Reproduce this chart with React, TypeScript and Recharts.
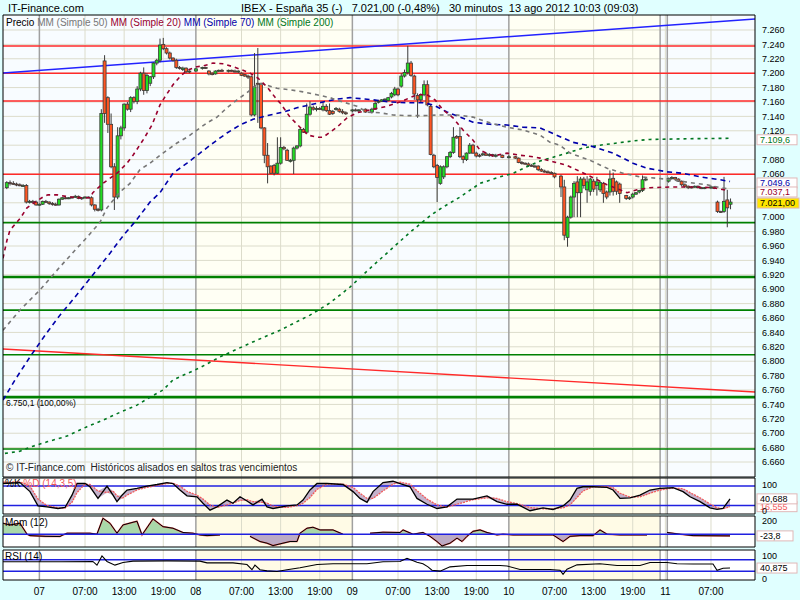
import React from "react";
import {
  ComposedChart,
  Bar,
  Line,
  Area,
  XAxis,
  YAxis,
  ReferenceLine,
  ReferenceArea,
} from "recharts";

// time axis: hours from 07 ago 00:00, one candle every 30 minutes
const T_MIN = -5.58;
const T_MAX = 109.75;
const PRICE_MIN = 6639.2;
const PRICE_MAX = 7280.8;

// [t, open, high, low, close]
const barsPre07 = [
  [-5.0, 7041, 7050, 7039, 7048], [-4.5, 7048, 7051, 7044, 7047], [-4.0, 7047, 7050, 7045, 7046],
  [-3.5, 7046, 7048, 7043, 7045], [-3.0, 7045, 7047, 7043, 7044], [-2.5, 7044, 7046, 7042, 7044],
  [-2.0, 7044, 7046, 7019, 7021], [-1.5, 7021, 7024, 7019, 7022], [-1.0, 7022, 7024, 7020, 7021],
  [-0.5, 7021, 7023, 7016, 7017], [0.0, 7017, 7019, 7016, 7018], [0.5, 7018, 7023, 7017, 7022],
  [1.0, 7022, 7024, 7020, 7021], [1.5, 7021, 7022, 7017, 7019], [2.0, 7019, 7021, 7016, 7018],
  [2.5, 7018, 7020, 7016, 7017], [3.0, 7017, 7026, 7016, 7025], [3.5, 7025, 7028, 7024, 7027],
  [4.0, 7027, 7029, 7025, 7026], [4.5, 7026, 7028, 7025, 7027], [5.0, 7027, 7029, 7026, 7028],
  [5.5, 7028, 7031, 7027, 7029], [6.0, 7029, 7030, 7025, 7026], [6.5, 7026, 7028, 7024, 7027],
  [7.0, 7027, 7029, 7026, 7028], [7.5, 7028, 7029, 7027, 7028], [8.0, 7027, 7029, 7015, 7017],
  [8.5, 7017, 7018, 7008, 7011], [9.0, 7011, 7013, 7008, 7010],
];

const barsDay07 = [
  [9.5, 7010, 7150, 7008, 7144], [10.0, 7217, 7225, 7131, 7144], [10.5, 7166, 7168, 7117, 7129],
  [11.0, 7129, 7144, 7068, 7070], [11.5, 7070, 7075, 7010, 7028], [12.0, 7028, 7125, 7025, 7113],
  [12.5, 7113, 7127, 7108, 7124], [13.0, 7124, 7158, 7120, 7157], [13.5, 7157, 7160, 7148, 7150],
  [14.0, 7150, 7168, 7146, 7166], [14.5, 7166, 7168, 7158, 7161], [15.0, 7161, 7182, 7157, 7178],
  [15.5, 7178, 7202, 7175, 7200], [16.0, 7200, 7208, 7170, 7176], [16.5, 7176, 7200, 7172, 7197],
  [17.0, 7186, 7196, 7182, 7195], [17.5, 7195, 7215, 7192, 7214], [18.0, 7214, 7220, 7211, 7218],
  [18.5, 7218, 7248, 7215, 7239], [19.0, 7240, 7249, 7232, 7234], [19.5, 7234, 7236, 7226, 7228],
  [20.0, 7228, 7230, 7219, 7221], [20.5, 7221, 7222, 7216, 7218], [21.0, 7218, 7220, 7206, 7208],
  [21.5, 7208, 7210, 7205, 7207], [22.0, 7205, 7209, 7203, 7207], [22.5, 7207, 7208, 7200, 7202],
  [23.0, 7202, 7204, 7200, 7203],
];

const barsDay08 = [
  [24.0, 7203, 7207, 7202, 7206], [25.0, 7207, 7209, 7205, 7208], [25.5, 7208, 7209, 7206, 7207],
  [26.0, 7203, 7204, 7197, 7199], [26.5, 7200, 7201, 7197, 7198], [27.0, 7199, 7204, 7198, 7203],
  [27.5, 7203, 7205, 7202, 7204], [28.0, 7204, 7206, 7202, 7203], [29.0, 7203, 7205, 7201, 7204],
  [29.5, 7204, 7205, 7202, 7203], [30.0, 7203, 7205, 7201, 7202], [30.5, 7202, 7204, 7200, 7203],
  [31.0, 7200, 7201, 7196, 7197], [31.5, 7198, 7199, 7195, 7196], [32.0, 7196, 7198, 7192, 7195],
  [32.5, 7195, 7197, 7140, 7142], [33.0, 7142, 7228, 7140, 7181], [33.5, 7186, 7235, 7131, 7185],
  [34.0, 7185, 7187, 7122, 7124], [34.5, 7124, 7125, 7075, 7086], [35.0, 7086, 7103, 7047, 7070],
  [35.5, 7071, 7072, 7060, 7061], [36.0, 7072, 7074, 7058, 7061], [36.5, 7061, 7111, 7060, 7075],
  [37.0, 7075, 7111, 7073, 7097], [37.5, 7097, 7099, 7093, 7095], [38.0, 7093, 7095, 7078, 7079],
  [38.5, 7079, 7081, 7076, 7079], [39.0, 7079, 7098, 7060, 7096], [39.5, 7096, 7100, 7094, 7099],
  [40.0, 7099, 7124, 7097, 7122], [40.5, 7122, 7124, 7117, 7118], [41.0, 7118, 7158, 7116, 7143],
  [41.5, 7143, 7161, 7141, 7153], [42.0, 7152, 7155, 7148, 7150], [42.5, 7150, 7154, 7147, 7151],
  [43.0, 7151, 7153, 7149, 7150], [43.5, 7149, 7160, 7147, 7154], [44.0, 7154, 7157, 7146, 7148],
  [44.5, 7148, 7158, 7142, 7143], [45.0, 7147, 7149, 7142, 7144], [45.5, 7150, 7153, 7148, 7151],
  [46.0, 7150, 7152, 7145, 7147], [46.5, 7147, 7150, 7143, 7145], [47.0, 7145, 7147, 7142, 7144],
];

const barsDay09 = [
  [48.0, 7148, 7150, 7146, 7149], [48.5, 7149, 7151, 7147, 7148], [49.0, 7148, 7150, 7146, 7149],
  [50.0, 7150, 7151, 7145, 7146], [51.0, 7146, 7152, 7144, 7150], [51.5, 7150, 7162, 7149, 7158],
  [52.0, 7160, 7163, 7158, 7161], [52.5, 7161, 7164, 7160, 7163], [53.0, 7163, 7165, 7161, 7164],
  [53.5, 7162, 7167, 7161, 7166], [54.0, 7167, 7174, 7165, 7172], [54.5, 7170, 7181, 7168, 7178],
  [55.0, 7178, 7180, 7168, 7170], [55.5, 7182, 7200, 7180, 7196], [56.0, 7196, 7205, 7194, 7201],
  [56.5, 7201, 7238, 7198, 7214], [57.0, 7214, 7217, 7195, 7197], [57.5, 7196, 7198, 7163, 7171],
  [58.0, 7169, 7172, 7138, 7163], [58.5, 7163, 7172, 7160, 7170], [59.0, 7170, 7190, 7168, 7184],
  [59.5, 7184, 7190, 7154, 7156], [60.0, 7154, 7156, 7086, 7087], [60.5, 7086, 7088, 7068, 7070],
  [61.0, 7072, 7074, 7021, 7055], [61.5, 7047, 7072, 7045, 7070], [62.0, 7056, 7072, 7053, 7070],
  [62.5, 7070, 7085, 7068, 7084], [63.0, 7084, 7092, 7082, 7090], [63.5, 7090, 7125, 7088, 7111],
  [64.0, 7112, 7114, 7109, 7110], [64.5, 7112, 7125, 7082, 7084], [65.0, 7084, 7086, 7075, 7080],
  [65.5, 7080, 7090, 7078, 7089], [66.0, 7089, 7103, 7088, 7100], [66.5, 7100, 7102, 7088, 7089],
  [67.0, 7089, 7091, 7083, 7085], [67.5, 7086, 7088, 7083, 7085], [68.0, 7087, 7090, 7085, 7088],
  [68.5, 7088, 7090, 7085, 7086], [69.0, 7086, 7089, 7084, 7087], [69.5, 7087, 7088, 7084, 7085],
  [70.0, 7085, 7088, 7083, 7086], [71.0, 7086, 7087, 7082, 7083],
];

const barsDay10 = [
  [72.0, 7084, 7086, 7082, 7084], [73.0, 7084, 7085, 7081, 7082], [73.5, 7082, 7083, 7075, 7076],
  [74.0, 7076, 7078, 7073, 7075], [74.5, 7075, 7076, 7073, 7074], [75.0, 7074, 7076, 7070, 7072],
  [75.5, 7072, 7074, 7070, 7071], [76.0, 7071, 7073, 7069, 7070], [76.5, 7071, 7072, 7064, 7066],
  [77.0, 7066, 7068, 7063, 7064], [77.5, 7064, 7066, 7062, 7063], [78.0, 7063, 7065, 7061, 7062],
  [78.5, 7062, 7064, 7060, 7061], [79.0, 7061, 7062, 7054, 7056], [80.0, 7057, 7059, 7028, 7042],
  [80.5, 7042, 7052, 6968, 6975], [81.0, 6972, 7002, 6959, 7000], [81.5, 7000, 7030, 6998, 7028],
  [82.0, 7028, 7050, 7000, 7047], [82.5, 7049, 7057, 7000, 7034], [83.0, 7034, 7056, 7000, 7053],
  [83.5, 7053, 7056, 7040, 7044], [84.0, 7038, 7057, 7020, 7049], [84.5, 7036, 7055, 7030, 7053],
  [85.0, 7050, 7053, 7035, 7039], [85.5, 7044, 7056, 7030, 7049], [86.0, 7038, 7050, 7035, 7048],
  [86.5, 7047, 7049, 7020, 7033], [87.0, 7035, 7037, 7025, 7028], [87.5, 7035, 7065, 7030, 7053],
  [88.0, 7054, 7062, 7030, 7036], [88.5, 7049, 7051, 7031, 7036], [89.0, 7046, 7048, 7020, 7033],
  [90.0, 7030, 7031, 7024, 7026], [90.5, 7026, 7029, 7024, 7027], [91.0, 7028, 7034, 7026, 7032],
  [91.5, 7032, 7035, 7031, 7034], [92.0, 7035, 7038, 7033, 7037], [92.5, 7037, 7058, 7035, 7052],
  [93.0, 7052, 7055, 7050, 7053],
];

const barsDay13 = [
  [96.5, 7050, 7055, 7048, 7054], [97.0, 7054, 7057, 7052, 7055], [97.5, 7055, 7056, 7051, 7053],
  [98.0, 7053, 7054, 7049, 7050], [98.5, 7050, 7051, 7043, 7045], [99.0, 7045, 7047, 7041, 7043],
  [99.5, 7043, 7044, 7039, 7041], [100.0, 7041, 7043, 7040, 7042], [100.5, 7042, 7044, 7041, 7043],
  [101.0, 7043, 7044, 7040, 7041], [101.5, 7041, 7042, 7039, 7040], [102.0, 7040, 7042, 7039, 7041],
  [103.0, 7041, 7044, 7039, 7042], [103.5, 7042, 7043, 7039, 7040], [104.0, 7021, 7023, 7006, 7008],
  [104.5, 7008, 7009, 7006, 7007], [105.0, 7008, 7056, 7006, 7022], [105.5, 7024, 7038, 6986, 7013],
  [106.0, 7018, 7026, 7011, 7021],
];

// moving averages [t, price]
const ma20 = [
  [-5.58, 6943], [-4.97, 6968], [-4.51, 6982], [-2.98, 6998], [-1.9, 7013], [-0.67, 7021], [0.55, 7028],
  [1.32, 7031], [2.7, 7031], [4.69, 7028], [6.23, 7027], [7.76, 7027], [8.2, 7034], [9.75, 7047],
  [11.9, 7061], [13.44, 7075], [14.36, 7086], [15.89, 7107], [17.27, 7128], [18.5, 7156], [19.26, 7167],
  [20.49, 7184], [21.56, 7195], [22.64, 7204], [24.17, 7209], [25.09, 7210], [26.63, 7214], [28.16, 7213],
  [29.69, 7209], [31.23, 7204], [32.3, 7200], [33.53, 7193], [34.91, 7181], [36.44, 7163], [36.9, 7159],
  [38.44, 7139], [39.97, 7125], [41.2, 7114], [42.58, 7111], [43.5, 7111], [44.57, 7118], [45.64, 7125],
  [47.18, 7138], [48.71, 7145], [51.17, 7150], [53.31, 7154], [55.31, 7160], [56.84, 7166], [57.91, 7170],
  [59.45, 7170], [60.67, 7163], [61.9, 7149], [63.44, 7138], [64.97, 7121], [66.5, 7107], [67.58, 7093],
  [69.57, 7085], [71.72, 7089], [73.71, 7086], [75.71, 7084], [76.78, 7082], [78.77, 7077], [80.92, 7072],
  [81.84, 7068], [84.45, 7057], [87.06, 7045], [89.05, 7038], [90.12, 7034], [91.66, 7038], [93.65, 7041],
  [97.18, 7042], [100.25, 7042], [103.31, 7041], [105.46, 7037.1],
];

const ma50 = [
  [-5.58, 6843], [-2.98, 6871], [0.09, 6899], [3.16, 6931], [5.46, 6954], [7.3, 6972], [9.29, 6993],
  [10.37, 7013], [12.36, 7035], [13.9, 7047], [15.43, 7066], [16.96, 7075], [18.96, 7089], [21.1, 7103],
  [22.64, 7111], [24.17, 7121], [25.71, 7131], [27.24, 7139], [28.77, 7152], [30.31, 7163], [31.84, 7173],
  [33.37, 7184], [34.29, 7185], [36.44, 7179], [38.44, 7177], [40.43, 7174], [42.58, 7170], [44.57, 7166],
  [46.56, 7160], [48.71, 7154], [50.25, 7146], [52.24, 7145], [54.23, 7142], [56.38, 7141], [58.83, 7141],
  [61.44, 7142], [64.05, 7142], [66.5, 7139], [69.11, 7131], [71.72, 7125], [74.17, 7121], [76.78, 7114],
  [78.31, 7104], [79.85, 7100], [81.38, 7089], [84.45, 7079], [87.06, 7068], [89.51, 7061], [92.12, 7056],
  [94.72, 7054], [97.18, 7052], [99.79, 7048], [102.39, 7045], [104.39, 7041], [105.92, 7039],
];

const ma70 = [
  [-5.58, 6746], [-3.74, 6774], [-1.44, 6806], [0.86, 6836], [3.16, 6864], [5.46, 6889], [8.83, 6927],
  [10.83, 6950], [12.82, 6974], [14.97, 6997], [16.96, 7021], [18.5, 7034], [20.49, 7061], [22.64, 7075],
  [24.63, 7089], [26.63, 7103], [28.77, 7117], [30.77, 7128], [32.76, 7136], [34.91, 7141], [37.36, 7146],
  [39.51, 7152], [41.5, 7156], [43.5, 7160], [45.64, 7164], [47.64, 7166], [51.17, 7163], [53.77, 7160],
  [56.38, 7159], [58.83, 7159], [60.37, 7156], [62.52, 7146], [64.51, 7139], [66.5, 7132], [69.11, 7129],
  [71.72, 7128], [74.17, 7125], [76.78, 7124], [79.3, 7114], [81.84, 7104], [84.91, 7098], [87.98, 7089],
  [91.04, 7075], [93.19, 7068], [96.26, 7063], [98.71, 7061], [101.32, 7056], [104.39, 7052], [105.92, 7049.6],
];

const ma200 = [
  [-5.28, 6672], [-2.98, 6675], [-0.98, 6682], [1.17, 6688], [4.23, 6696], [7.3, 6709], [9.75, 6718],
  [12.36, 6729], [14.97, 6739], [16.96, 6750], [18.96, 6760], [20.49, 6774], [24.63, 6791], [27.7, 6806],
  [32.3, 6825], [36.9, 6843], [41.5, 6864], [44.57, 6881], [47.64, 6903], [50.71, 6929], [53.77, 6954],
  [56.84, 6979], [60.06, 7003], [61.9, 7014], [64.51, 7028], [67.58, 7047], [70.64, 7056], [72.64, 7061],
  [75.25, 7072], [76.78, 7078], [78.31, 7082], [80.92, 7089], [83.37, 7096], [85.98, 7100], [88.59, 7103],
  [91.04, 7106], [93.65, 7108], [99.79, 7109], [105.92, 7109.6],
];

const redLevels = [7237.8, 7200.0, 7161.4, 7059.6];
const greenLevelsThin = [6992.4, 6871, 6809, 6678];
const greenLevelsThick = [6917, 6750.1];
const trendBlue = [[T_MIN, 7200.3], [T_MAX, 7275.3]];
const trendRed = [[T_MIN, 6816.9], [T_MAX, 6757.2]];

const priceTicks = [
  6660, 6680, 6700, 6720, 6740, 6760, 6780, 6800, 6820, 6840, 6860, 6880, 6900, 6920, 6940, 6960,
  6980, 7000, 7020, 7040, 7060, 7080, 7100, 7120, 7140, 7160, 7180, 7200, 7220, 7240, 7260,
];
const coveredTicks = [7100, 7040, 7020];

const xTicks = [0, 7, 13, 19, 24, 31, 37, 43, 48, 55, 61, 67, 72, 79, 85, 91, 96, 103];
const xTickLabels = [
  "07", "07:00", "13:00", "19:00", "08", "07:00", "13:00", "19:00", "09",
  "07:00", "13:00", "19:00", "10", "07:00", "13:00", "19:00", "11", "07:00",
];
const daySeparators = [0, 24, 48, 72, 95.2, 96.3];
const creamDays = [[24, 48], [72, 95.2]];

// [t, %K, %D]
const stochRows = [
  [-5.58, 88, 92], [-2.98, 91, 93], [-1.44, 63, 80], [-0.21, 19, 40], [1.17, 16, 20], [2.85, 11, 13],
  [3.93, 14, 12], [5.0, 52, 30], [5.77, 88, 60], [7.0, 88, 86], [7.76, 78, 85], [8.99, 42, 65],
  [10.37, 80, 60], [11.29, 52, 65], [11.9, 32, 50], [12.67, 52, 42], [13.44, 68, 52], [14.97, 73, 68],
  [16.5, 80, 76], [18.04, 85, 82], [19.57, 91, 88], [20.49, 88, 89], [21.56, 68, 80], [22.64, 50, 64],
  [24.17, 47, 52], [25.09, 27, 40], [26.17, 6, 22], [27.24, 16, 14], [28.77, 37, 22], [29.69, 27, 28],
  [30.77, 47, 36], [31.84, 34, 38], [32.76, 22, 32], [34.14, 40, 30], [34.91, 16, 28], [35.83, 11, 18],
  [37.98, 19, 14], [39.51, 22, 20], [40.43, 37, 27], [41.5, 68, 45], [42.58, 88, 70], [44.11, 88, 86],
  [46.56, 85, 86], [48.1, 63, 76], [49.17, 42, 58], [50.25, 30, 42], [51.17, 63, 42], [52.7, 91, 65],
  [54.23, 95, 86], [55.31, 88, 92], [56.84, 78, 86], [57.91, 42, 66], [59.45, 24, 40], [60.98, 11, 22],
  [62.52, 16, 15], [64.05, 40, 24], [66.5, 40, 38], [68.65, 50, 44], [70.18, 32, 42], [71.72, 24, 32],
  [73.25, 24, 26], [75.25, 4, 14], [77.24, 13, 10], [78.77, 8, 10], [80.31, 19, 13], [81.38, 37, 22],
  [82.45, 73, 45], [83.37, 78, 65], [84.91, 78, 78], [87.06, 76, 78], [87.98, 68, 75], [89.05, 42, 58],
  [90.58, 44, 46], [92.12, 52, 47], [93.65, 68, 58], [95.18, 73, 68], [97.18, 75, 74], [98.71, 63, 72],
  [99.79, 47, 60], [101.32, 32, 44], [102.85, 13, 25], [103.93, 8, 13], [104.85, 11, 10], [105.92, 40.7, 16.6],
];

// [t, momentum], null = no line drawn
const momRows = [
  [-5.58, 154], [-4.51, 130], [-2.98, 154], [-1.9, 0], [-1.44, -20], [0.86, -30], [3.16, -33], [3.62, -10],
  [4.23, 14], [7.76, 14], [8.83, 0], [9.75, 224], [10.83, 154], [11.9, 14], [12.82, 130], [14.36, 168],
  [14.97, 182], [15.74, -10], [17.42, 214], [18.96, 106], [20.49, 84], [22.02, 24], [23.56, 14],
  [24.63, -10], [25.71, -20], [27.7, -10], [29.5, null], [32.3, -30], [33.83, -103], [34.91, -126],
  [35.83, -160], [37.36, -126], [38.44, -103], [39.51, -103], [39.97, 14], [41.04, 84], [41.96, 98],
  [43.04, 60], [45.03, 60], [46.56, 0], [48.5, null], [50.71, 14], [52.7, 28], [55.31, 24], [55.77, 60],
  [57.3, 0], [58.83, 24], [59.91, -30], [60.98, -103], [61.75, -165], [62.98, -126], [64.05, -55],
  [64.82, -103], [65.58, -30], [66.5, 40], [67.58, 60], [68.65, 24], [70.18, -10], [71.1, 0], [72.64, -10],
  [78.77, -10], [80.31, -103], [81.38, -30], [82.91, -20], [84.91, -20], [85.98, 60], [87.06, 0],
  [89.05, -10], [93.19, -10], [95.0, null], [96.26, 24], [98.25, 0], [100.25, -20], [105.92, -23.8],
];

const rsiRows = [
  [-5.58, 63], [0.09, 63], [3.16, 63], [8.2, 64], [8.83, 51], [9.6, 83], [10.37, 64], [11.59, 51],
  [12.82, 60], [14.36, 65], [19.57, 66], [24.63, 65], [25.71, 59], [29.69, 59], [31.84, 53], [32.6, 35],
  [33.06, 51], [33.83, 35], [34.91, 31], [36.44, 29], [37.98, 35], [39.97, 42], [42.58, 53], [45.03, 56],
  [50.25, 56], [52.7, 63], [55.31, 64], [56.38, 75], [57.91, 61], [58.83, 56], [59.6, 45], [60.21, 33],
  [61.44, 30], [62.98, 45], [65.58, 50], [70.64, 50], [71.72, 48], [73.71, 36], [78.31, 36], [79.85, 33],
  [80.31, 19], [80.92, 37], [82.45, 52], [85.98, 56], [88.59, 50], [92.12, 50], [93.65, 60], [96.26, 60],
  [97.79, 56], [100.25, 55], [103.31, 55], [103.93, 33], [104.85, 40], [105.92, 40.875],
];

const candles = [...barsPre07, ...barsDay07, ...barsDay08, ...barsDay09, ...barsDay10, ...barsDay13].map(
  ([t, o, h, l, c]) => ({ t, o, h, l, c })
);
const toPoints = (rows: number[][]) => rows.map(([t, v]) => ({ t, v }));
const stochData = stochRows.map(([t, k, d]) => ({ t, k, d, band: [Math.min(k, d), Math.max(k, d)] }));
const momData = momRows.map(([t, v]) => ({ t, v }));
const momValues = momRows.map((r) => r[1]).filter((v) => v !== null) as number[];
const momSplit = Math.max(...momValues) / (Math.max(...momValues) - Math.min(...momValues));

const FONT = "'Liberation Sans', Arial, sans-serif";
const GRID = "#dcdccb";
const SEP = "#a0a0a0";

const fmtPrice = (v: number) => `${Math.floor(v / 1000)}.${String(v % 1000).padStart(3, "0")}`;

const Candle = (props: any) => {
  const { x, y, width, height, payload } = props;
  const { o, h, l, c } = payload;
  const cx = x + width / 2;
  const py = (v: number) => y + ((h - v) / (h - l)) * height;
  const top = py(Math.max(o, c));
  const bot = py(Math.min(o, c));
  const up = c >= o;
  return (
    <g>
      <line x1={cx} x2={cx} y1={y} y2={y + height} stroke="#3a3a3a" strokeWidth={1} />
      <rect
        x={cx - 1.5}
        y={top}
        width={3}
        height={Math.max(bot - top, 1)}
        fill={up ? "#22dd22" : "#ff5522"}
        stroke="#3a3a3a"
        strokeWidth={0.8}
      />
    </g>
  );
};

const PriceTick = (props: any) => {
  const { x, y, payload } = props;
  if (coveredTicks.includes(payload.value)) return <g />;
  return (
    <text x={x - 1} y={y + 3.2} fontSize={9} fontFamily={FONT} fill="#000">
      {fmtPrice(payload.value)}
    </text>
  );
};

const PanelTick = (props: any) => {
  const { x, y, payload, shift } = props;
  return (
    <text x={x - 1} y={y + 3.2 + (shift?.[payload.value] ?? 0)} fontSize={9} fontFamily={FONT} fill="#000">
      {payload.value}
    </text>
  );
};

const ValueBox = (props: any) => {
  const { viewBox, text, color, bg, w, dy } = props;
  const x = viewBox.x + viewBox.width + 2;
  const y = viewBox.y + (dy ?? 0);
  return (
    <g>
      <rect x={x} y={y - 5} width={w ?? 40} height={10} fill={bg ?? "#ffffff"} stroke="#e0b8b8" />
      <text x={x + 3} y={y + 3.2} fontSize={9} fontFamily={FONT} fill={color}>
        {text}
      </text>
    </g>
  );
};

const bandFill = (fill: string) =>
  creamDays.map(([a, b]) => (
    <ReferenceArea key={`cd${a}`} x1={a} x2={b} fill={fill} fillOpacity={1} stroke="none" zIndex={-190} />
  ));

const vGrid = () => [
  ...xTicks
    .filter((t) => !daySeparators.includes(t))
    .map((t) => <ReferenceLine key={`vg${t}`} x={t} stroke={GRID} strokeWidth={1} zIndex={-150} />),
  ...daySeparators.map((t) => (
    <ReferenceLine key={`ds${t}`} x={t} stroke={SEP} strokeWidth={1.5} zIndex={-140} />
  )),
];

function MainChart() {
  return (
    <ComposedChart width={800} height={480} data={candles} margin={{ top: 15, right: 0, bottom: 3, left: 3 }}>
      <XAxis type="number" dataKey="t" domain={[T_MIN, T_MAX]} allowDataOverflow hide />
      <YAxis
        orientation="right"
        width={45}
        domain={[PRICE_MIN, PRICE_MAX]}
        allowDataOverflow
        ticks={priceTicks}
        interval={0}
        axisLine={false}
        tickLine={false}
        tick={<PriceTick />}
      />
      <ReferenceArea x1={T_MIN} x2={T_MAX} y1={PRICE_MIN} y2={PRICE_MAX} fill="#f8fcff" fillOpacity={1} stroke="none" zIndex={-200} />
      {bandFill("#fffff4")}
      {priceTicks.map((p) => (
        <ReferenceLine key={`hg${p}`} y={p} stroke={GRID} strokeWidth={1} zIndex={-150} />
      ))}
      {vGrid()}
      {redLevels.map((p) => (
        <ReferenceLine key={`r${p}`} y={p} stroke="#ff2a2a" strokeWidth={1.6} zIndex={250} />
      ))}
      {greenLevelsThin.map((p) => (
        <ReferenceLine key={`g${p}`} y={p} stroke="#008000" strokeWidth={1.6} zIndex={250} />
      ))}
      {greenLevelsThick.map((p) => (
        <ReferenceLine
          key={`G${p}`}
          y={p}
          stroke="#008000"
          strokeWidth={2.6}
          zIndex={250}
          label={
            p === 6750.1
              ? { value: "6.750,1 (100,00%)", position: "insideTopLeft", offset: 3, fontSize: 8.5, fill: "#000", fontFamily: FONT }
              : undefined
          }
        />
      ))}
      <ReferenceLine
        segment={trendBlue.map(([x, y]) => ({ x, y }))}
        stroke="#2222ff"
        strokeWidth={1.4}
        zIndex={250}
      />
      <ReferenceLine
        segment={trendRed.map(([x, y]) => ({ x, y }))}
        stroke="#ff2a2a"
        strokeWidth={1.4}
        zIndex={250}
      />
      <Bar dataKey={(d: any) => [d.l, d.h]} barSize={3} shape={<Candle />} isAnimationActive={false} />
      <Line data={toPoints(ma200)} dataKey="v" stroke="#007722" strokeWidth={1.6} strokeDasharray="3 4" dot={false} activeDot={false} isAnimationActive={false} />
      <Line data={toPoints(ma70)} dataKey="v" stroke="#0000aa" strokeWidth={1.6} strokeDasharray="5 4" dot={false} activeDot={false} isAnimationActive={false} />
      <Line data={toPoints(ma50)} dataKey="v" stroke="#777777" strokeWidth={1.6} strokeDasharray="4 4" dot={false} activeDot={false} isAnimationActive={false} />
      <Line data={toPoints(ma20)} dataKey="v" stroke="#99002e" strokeWidth={1.6} strokeDasharray="4 4" dot={false} activeDot={false} isAnimationActive={false} />
      <ReferenceArea x1={T_MIN} x2={T_MAX} y1={PRICE_MIN} y2={PRICE_MAX} fill="none" stroke="#000" strokeWidth={1} zIndex={900} />
      <ReferenceLine y={7109.6} stroke="none" label={<ValueBox text="7.109,6" color="#007722" dy={1.5} />} />
      <ReferenceLine y={7049.6} stroke="none" label={<ValueBox text="7.049,6" color="#0000aa" dy={1.5} />} />
      <ReferenceLine y={7037.1} stroke="none" label={<ValueBox text="7.037,1" color="#99002e" dy={1.5} />} />
      <ReferenceLine y={7021} stroke="none" label={<ValueBox text="7.021,00" color="#000" bg="#ffe600" w={42} dy={1} />} />
    </ComposedChart>
  );
}

function StochChart() {
  return (
    <ComposedChart width={800} height={50} data={stochData} margin={{ top: 8, right: 0, bottom: 6, left: 3 }}>
      <XAxis type="number" dataKey="t" domain={[T_MIN, T_MAX]} allowDataOverflow hide />
      <YAxis
        orientation="right"
        width={45}
        domain={[-6, 105]}
        allowDataOverflow
        ticks={[100, 0]}
        interval={0}
        axisLine={false}
        tickLine={false}
        tick={<PanelTick shift={{ 100: 5, 0: -1 }} />}
      />
      <ReferenceArea x1={T_MIN} x2={T_MAX} y1={-6} y2={105} fill="#ffffff" fillOpacity={1} stroke="none" zIndex={-200} />
      {bandFill("#fffbe6")}
      {vGrid()}
      <ReferenceLine y={80} stroke="#2020e0" strokeWidth={1.5} zIndex={250} />
      <ReferenceLine y={20} stroke="#2020e0" strokeWidth={1.5} zIndex={250} />
      <Area dataKey="band" stroke="none" fill="#c4b2cc" fillOpacity={1} isAnimationActive={false} activeDot={false} />
      <Line dataKey="d" stroke="#f25a5a" strokeWidth={1.3} strokeDasharray="2 1" dot={false} activeDot={false} isAnimationActive={false} />
      <Line dataKey="k" stroke="#000" strokeWidth={1.3} dot={false} activeDot={false} isAnimationActive={false} />
      <ReferenceArea x1={T_MIN} x2={T_MAX} y1={-6} y2={105} fill="none" stroke="#000" strokeWidth={1} zIndex={900} />
      <ReferenceLine y={16.6} stroke="none" label={<ValueBox text="16,555" color="#f25a5a" />} />
      <ReferenceLine y={40.688} stroke="none" label={<ValueBox text="40,688" color="#000" />} />
    </ComposedChart>
  );
}

function MomChart() {
  return (
    <ComposedChart width={800} height={40} data={momData} margin={{ top: 6, right: 0, bottom: 3, left: 3 }}>
      <defs>
        <linearGradient id="momFill" x1="0" y1="0" x2="0" y2="1">
          <stop offset={momSplit} stopColor="#a9d8a9" />
          <stop offset={momSplit} stopColor="#bcaac4" />
        </linearGradient>
      </defs>
      <XAxis type="number" dataKey="t" domain={[T_MIN, T_MAX]} allowDataOverflow hide />
      <YAxis
        orientation="right"
        width={45}
        domain={[-180, 256]}
        allowDataOverflow
        ticks={[200]}
        interval={0}
        axisLine={false}
        tickLine={false}
        tick={<PanelTick shift={{ 200: 1 }} />}
      />
      <ReferenceArea x1={T_MIN} x2={T_MAX} y1={-180} y2={256} fill="#ffffff" fillOpacity={1} stroke="none" zIndex={-200} />
      {bandFill("#fffbe6")}
      {vGrid()}
      <Area dataKey="v" baseValue={0} stroke="#e86060" strokeWidth={1.6} fill="url(#momFill)" fillOpacity={1} isAnimationActive={false} activeDot={false} />
      <Line dataKey="v" stroke="#000" strokeWidth={1} dot={false} activeDot={false} isAnimationActive={false} />
      <ReferenceLine y={0} stroke="#2020e0" strokeWidth={1.5} zIndex={450} />
      <ReferenceArea x1={T_MIN} x2={T_MAX} y1={-180} y2={256} fill="none" stroke="#000" strokeWidth={1} zIndex={900} />
      <ReferenceLine y={-23.8} stroke="none" label={<ValueBox text="-23,8" color="#000" w={36} />} />
    </ComposedChart>
  );
}

function RsiChart() {
  return (
    <ComposedChart width={800} height={56} data={toPoints(rsiRows)} margin={{ top: 6, right: 0, bottom: 0, left: 3 }}>
      <XAxis
        type="number"
        dataKey="t"
        domain={[T_MIN, T_MAX]}
        allowDataOverflow
        ticks={xTicks}
        interval={0}
        height={20}
        axisLine={false}
        tickLine={false}
        tickMargin={2}
        tickFormatter={(t: number) => xTickLabels[xTicks.indexOf(t)]}
        tick={{ fontSize: 10, fill: "#000", fontFamily: FONT }}
      />
      <YAxis
        orientation="right"
        width={45}
        domain={[-1, 104]}
        allowDataOverflow
        ticks={[100, 0]}
        interval={0}
        axisLine={false}
        tickLine={false}
        tick={<PanelTick shift={{ 100: 5, 0: -1 }} />}
      />
      <ReferenceArea x1={T_MIN} x2={T_MAX} y1={-1} y2={104} fill="#ffffff" fillOpacity={1} stroke="none" zIndex={-200} />
      {bandFill("#fffbe6")}
      {vGrid()}
      <ReferenceLine y={70} stroke="#2020e0" strokeWidth={1.5} zIndex={250} />
      <ReferenceLine y={30} stroke="#2020e0" strokeWidth={1.5} zIndex={250} />
      <Line dataKey="v" stroke="#000" strokeWidth={1.1} dot={false} activeDot={false} isAnimationActive={false} />
      <ReferenceArea x1={T_MIN} x2={T_MAX} y1={-1} y2={104} fill="none" stroke="#000" strokeWidth={1} zIndex={900} />
      <ReferenceLine y={40.875} stroke="none" label={<ValueBox text="40,875" color="#000" />} />
    </ComposedChart>
  );
}

const abs = (top: number): React.CSSProperties => ({ position: "absolute", left: 0, top });

export default function App() {
  return (
    <div
      style={{
        position: "absolute",
        left: 0,
        top: 0,
        width: 800,
        height: 600,
        background: "#e0ffff",
        fontFamily: FONT,
        overflow: "hidden",
      }}
    >
      <div style={{ position: "absolute", left: 8, top: 1, fontSize: 11, lineHeight: "14px" }}>IT-Finance.com</div>
      <div style={{ position: "absolute", left: 241, top: 1, fontSize: 11, lineHeight: "14px", whiteSpace: "pre" }}>
        {"IBEX - España 35 (-)   7.021,00 (-0,48%)   30 minutos  13 ago 2012 10:03 (09:03)"}
      </div>
      <div style={abs(0)}>
        <MainChart />
      </div>
      <div style={abs(470)}>
        <StochChart />
      </div>
      <div style={abs(510)}>
        <MomChart />
      </div>
      <div style={abs(544)}>
        <RsiChart />
      </div>
      <div style={{ position: "absolute", left: 6, top: 17, fontSize: 10, lineHeight: "12px", whiteSpace: "pre" }}>
        <span style={{ color: "#000" }}>Precio </span>
        <span style={{ color: "#777" }}>MM (Simple 50) </span>
        <span style={{ color: "#99002e" }}>MM (Simple 20) </span>
        <span style={{ color: "#0000aa" }}>MM (Simple 70) </span>
        <span style={{ color: "#007722" }}>MM (Simple 200)</span>
      </div>
      <div style={{ position: "absolute", left: 6, top: 462, fontSize: 10, lineHeight: "12px", color: "#222", whiteSpace: "pre" }}>
        {"© IT-Finance.com  Históricos alisados en saltos tras vencimientos"}
      </div>
      <div style={{ position: "absolute", left: 5, top: 478, fontSize: 10, lineHeight: "11px", whiteSpace: "pre" }}>
        <span style={{ color: "#000" }}>%K </span>
        <span style={{ color: "#f25a5a" }}>%D (14,3,5)</span>
      </div>
      <div style={{ position: "absolute", left: 5, top: 517, fontSize: 10, lineHeight: "11px" }}>Mom (12)</div>
      <div style={{ position: "absolute", left: 5, top: 551, fontSize: 10, lineHeight: "11px" }}>RSI (14)</div>
    </div>
  );
}
